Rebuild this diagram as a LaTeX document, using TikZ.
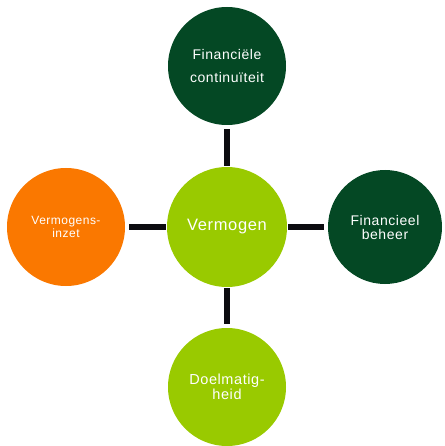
\documentclass[tikz,border=0pt]{standalone}
\usepackage{fontspec}
\newfontfamily\lab[LetterSpace=4]{Liberation Sans}
\definecolor{darkgreen}{RGB}{4,72,36}
\definecolor{limegreen}{RGB}{153,202,0}
\definecolor{orangefill}{RGB}{250,120,0}
\definecolor{connblack}{RGB}{12,12,16}
\begin{document}
\begin{tikzpicture}[x=1pt,y=-1pt,
  bubble/.style={circle,inner sep=0pt,text=white,align=center},
  conn/.style={draw=connblack,line width=6pt,shorten <=4pt,shorten >=1pt}]
\useasboundingbox (0,0) rectangle (444,446);
% centre and the four surrounding topics
\node[bubble,fill=limegreen,minimum size=120pt,font={\lab\fontsize{16.5}{20}\selectfont}] (core) at (227,227) {Vermogen};
\node[bubble,fill=darkgreen,minimum size=118pt,font={\lab\fontsize{14}{23}\selectfont}] (cont) at (227,66) {Financiële\\continuïteit};
\node[bubble,fill=darkgreen,minimum size=114pt,font={\lab\fontsize{14}{14}\selectfont}] (beheer) at (385,227) {Financieel\\beheer};
\node[bubble,fill=orangefill,minimum size=118pt,font={\lab\fontsize{12}{13}\selectfont}] (inzet) at (66,227) {Vermogens-\\inzet};
\node[bubble,fill=limegreen,minimum size=118pt,font={\lab\fontsize{14.5}{15}\selectfont}] (doel) at (227,387) {Doelmatig-\\heid};
% connectors
\draw[conn] (cont.south) -- (core.north);
\draw[conn] (inzet.east) -- (core.west);
\draw[conn] (beheer.west) -- (core.east);
\draw[conn] (doel.north) -- (core.south);
\end{tikzpicture}
\end{document}
